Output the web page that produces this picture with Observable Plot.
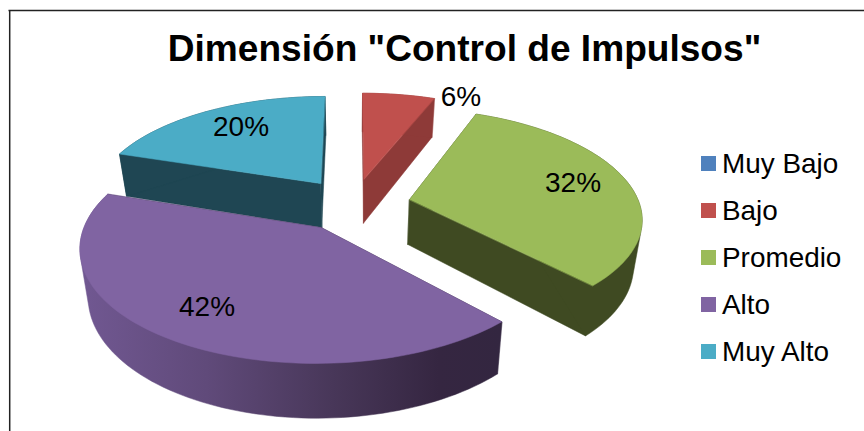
<!DOCTYPE html>
<html>
<head>
<meta charset="utf-8">
<script src="https://cdn.jsdelivr.net/npm/d3@7"></script>
<script src="https://cdn.jsdelivr.net/npm/@observablehq/plot@0.6"></script>
<style>html,body{margin:0;padding:0;background:#fff;overflow:hidden}svg{display:block}</style>
</head>
<body>
<script>
const titleText = 'Dimensión "Control de Impulsos"';
const categories = ["Muy Bajo", "Bajo", "Promedio", "Alto", "Muy Alto"];
const percents = [0, 6, 32, 42, 20];
const topColors = ["#4f81bd", "#c0504d", "#9bbb59", "#8064a2", "#4bacc6"];
const wallColors = ["#2a4565", "#8e3a38", "#3f4a22", "url(#altoWall)", "#1f4653"];
const drawOrder = [1, 4, 2, 3];
const labelSpots = {1: [460.5, 97], 2: [572.5, 183], 3: [206.5, 307], 4: [240.5, 127]};

// Perspective view of the exploded pie
const W = 864, H = 431;
const view = {ox: 353, oy: 204, a: 230, b: 106.6, k: 0.155, explode: 0.25};
const project = (u, v) => {
  const w = 1 + view.k * v;
  return [view.ox + view.a * u / w, view.oy - view.b * v / w];
};
const lower = ([x, y]) => [view.ox + 0.97 * (x - view.ox), 1.06 * y + 33];

const total = d3.sum(percents);
let running = 0;
const slices = percents.map((p, i) => {
  const t0 = running / total * 2 * Math.PI;
  running += p;
  const t1 = running / total * 2 * Math.PI;
  const mid = (t0 + t1) / 2;
  const cu = view.explode * Math.sin(mid), cv = view.explode * Math.cos(mid);
  const n = Math.max(2, Math.ceil((t1 - t0) / 0.03));
  const arc = d3.range(n + 1).map(j => {
    const t = t0 + (t1 - t0) * j / n;
    return project(cu + Math.sin(t), cv + Math.cos(t));
  });
  return {i, apex: project(cu, cv), arc};
});

const poly = (points, fill) => Plot.line(points, {
  x: d => d[0], y: d => d[1], fill, stroke: fill, strokeWidth: 0.5, curve: "linear-closed"
});

const pieMarks = drawOrder.flatMap(i => {
  const s = slices[i];
  const aLow = lower(s.apex), arcLow = s.arc.map(lower);
  const first = s.arc[0], last = s.arc[s.arc.length - 1];
  return [
    poly([s.apex, first, arcLow[0], aLow], wallColors[i] === "url(#altoWall)" ? "#332640" : wallColors[i]),
    poly([s.apex, last, arcLow[arcLow.length - 1], aLow], wallColors[i] === "url(#altoWall)" ? "#332640" : wallColors[i]),
    poly(d3.polygonHull([...s.arc, ...arcLow]), wallColors[i]),
    poly([s.apex, ...s.arc], topColors[i])
  ];
});

const legendRows = categories.map((name, i) => ({name, color: topColors[i], y: 163.5 + 47 * i}));
const labelRows = percents.flatMap((p, i) => p > 0
  ? [{text: p + "%", x: labelSpots[i][0], y: labelSpots[i][1]}] : []);

const gradientDefs = () => {
  const ns = "http://www.w3.org/2000/svg";
  const defs = document.createElementNS(ns, "defs");
  const g = document.createElementNS(ns, "linearGradient");
  g.setAttribute("id", "altoWall");
  [[0, "#715892"], [0.3, "#604a7a"], [0.6, "#483759"], [0.85, "#352641"], [1, "#332640"]].forEach(([o, c]) => {
    const st = document.createElementNS(ns, "stop");
    st.setAttribute("offset", o);
    st.setAttribute("stop-color", c);
    g.appendChild(st);
  });
  defs.appendChild(g);
  return defs;
};

const font = "Liberation Sans, Arial, sans-serif";
const chart = Plot.plot({
  width: W, height: H,
  margin: 0,
  x: {domain: [0, W], range: [0, W], axis: null},
  y: {domain: [0, H], range: [0, H], axis: null},
  style: {background: "#fff", fontFamily: font},
  marks: [
    gradientDefs,
    Plot.ruleY([10], {x1: 8.5, x2: W, stroke: "#222", strokeWidth: 1.5}),
    Plot.ruleX([9.2], {y1: 10, y2: H, stroke: "#222", strokeWidth: 1.5}),
    ...pieMarks,
    Plot.text([titleText], {
      x: 464, y: 60, text: d => d, fontSize: 37.1, fontWeight: "bold",
      fill: "#000", lineAnchor: "bottom", fontFamily: font
    }),
    Plot.text(labelRows, {
      x: "x", y: "y", text: "text", fontSize: 28, fill: "#000", fontFamily: font
    }),
    Plot.rect(legendRows, {
      x1: () => 701, x2: () => 716, y1: d => d.y - 7.5, y2: d => d.y + 7.5,
      fill: "color", inset: 0
    }),
    Plot.text(legendRows, {
      x: () => 721.5, y: "y", text: "name", textAnchor: "start",
      fontSize: 27.9, fill: "#000", fontFamily: font
    })
  ],
  color: {type: "identity"}
});
document.body.appendChild(chart);
</script>
</body>
</html>
